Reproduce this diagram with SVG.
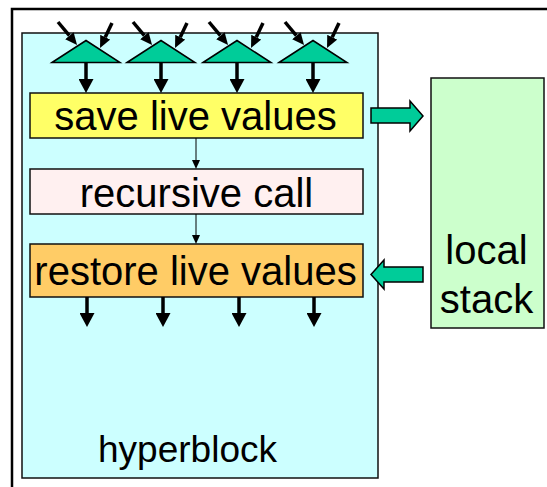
<svg xmlns="http://www.w3.org/2000/svg" width="547" height="487" viewBox="0 0 547 487">
<style>
  .box { stroke: #111; stroke-width: 1.5; }
  .lbl { font-family: "Liberation Sans", Arial, sans-serif; font-size: 40px; fill: #000; text-anchor: middle; }
  .thick { stroke: #000; stroke-width: 3.5; fill: none; }
  .thin { stroke: #000; stroke-width: 1; fill: none; }
  .mux { fill: #00cc99; stroke: #000; stroke-width: 1.5; stroke-linejoin: miter; }
  .fat { fill: #00cc99; stroke: #000; stroke-width: 1.5; }
</style>
<defs>
  <marker id="big" viewBox="0 0 14 15" refX="0" refY="7.5" markerWidth="14" markerHeight="15" markerUnits="userSpaceOnUse" orient="auto">
    <path d="M0,0 L14,7.5 L0,15 Z" fill="#000"/>
  </marker>
  <marker id="mid" viewBox="0 0 12 11" refX="0" refY="5.5" markerWidth="12" markerHeight="11" markerUnits="userSpaceOnUse" orient="auto">
    <path d="M0,0 L12,5.5 L0,11 Z" fill="#000"/>
  </marker>
  <marker id="small" viewBox="0 0 9 8" refX="0" refY="4" markerWidth="9" markerHeight="8" markerUnits="userSpaceOnUse" orient="auto">
    <path d="M0,0 L9,4 L0,8 Z" fill="#000"/>
  </marker>
</defs>
<rect width="547" height="487" fill="#fff"/>
<path d="M12,487 L12,9 L547,9" fill="none" stroke="#000" stroke-width="2.5"/>

<g id="hyperblock">
  <rect class="box" x="22" y="33" width="356" height="445" fill="#ccffff"/>
  <text class="lbl" x="187.5" y="462" style="font-size:37px">hyperblock</text>
</g>

<g id="local-stack">
  <rect class="box" x="431" y="78" width="113" height="250" fill="#ccffcc"/>
  <text class="lbl" x="486.5" y="264">local</text>
  <text class="lbl" x="486.5" y="313">stack</text>
</g>

<g id="muxes">
  <polygon class="mux" points="52,62.5 86,40.5 120,62.5"/>
  <polygon class="mux" points="127,62.5 161,40.5 195,62.5"/>
  <polygon class="mux" points="203,62.5 237,40.5 271,62.5"/>
  <polygon class="mux" points="279,62.5 313,40.5 347,62.5"/>
</g>

<g id="save">
  <rect class="box" x="30" y="93" width="333" height="45" fill="#ffff66"/>
  <text class="lbl" x="195.5" y="130">save live values</text>
</g>

<g id="recursive">
  <rect class="box" x="30" y="169" width="333" height="45" fill="#fff0f0"/>
  <text class="lbl" x="196.5" y="207">recursive call</text>
</g>

<g id="restore">
  <rect class="box" x="30" y="244" width="333" height="53" fill="#ffcc66"/>
  <text class="lbl" x="195.5" y="285">restore live values</text>
</g>

<g id="connectors">
  <!-- inputs into muxes -->
  <g class="thick">
    <line x1="58" y1="22" x2="69.4" y2="35.7" marker-end="url(#mid)"/>
    <line x1="112" y1="23" x2="105.2" y2="37.2" marker-end="url(#mid)"/>
    <line x1="133" y1="22" x2="144.4" y2="35.7" marker-end="url(#mid)"/>
    <line x1="187" y1="23" x2="180.2" y2="37.2" marker-end="url(#mid)"/>
    <line x1="209" y1="22" x2="220.4" y2="35.7" marker-end="url(#mid)"/>
    <line x1="263" y1="23" x2="256.2" y2="37.2" marker-end="url(#mid)"/>
    <line x1="285" y1="22" x2="296.4" y2="35.7" marker-end="url(#mid)"/>
    <line x1="339" y1="23" x2="332.2" y2="37.2" marker-end="url(#mid)"/>
    <!-- mux outputs to save -->
    <line x1="86" y1="62" x2="86" y2="79" marker-end="url(#big)"/>
    <line x1="161" y1="62" x2="161" y2="79" marker-end="url(#big)"/>
    <line x1="237" y1="62" x2="237" y2="79" marker-end="url(#big)"/>
    <line x1="313" y1="62" x2="313" y2="79" marker-end="url(#big)"/>
    <!-- restore outputs -->
    <line x1="87" y1="297" x2="87" y2="313" marker-end="url(#big)"/>
    <line x1="163" y1="297" x2="163" y2="313" marker-end="url(#big)"/>
    <line x1="239" y1="297" x2="239" y2="313" marker-end="url(#big)"/>
    <line x1="314" y1="297" x2="314" y2="313" marker-end="url(#big)"/>
  </g>
  <line class="thin" x1="196" y1="138" x2="196" y2="160" marker-end="url(#small)"/>
  <line class="thin" x1="196" y1="214" x2="196" y2="235" marker-end="url(#small)"/>
  <!-- fat arrows -->
  <path class="fat" d="M371,108 L410,108 L410,101 L423,116 L410,131 L410,123 L371,123 Z"/>
  <path class="fat" d="M371,274.5 L384,260 L384,267 L423,267 L423,282 L384,282 L384,289 Z"/>
</g>
</svg>
